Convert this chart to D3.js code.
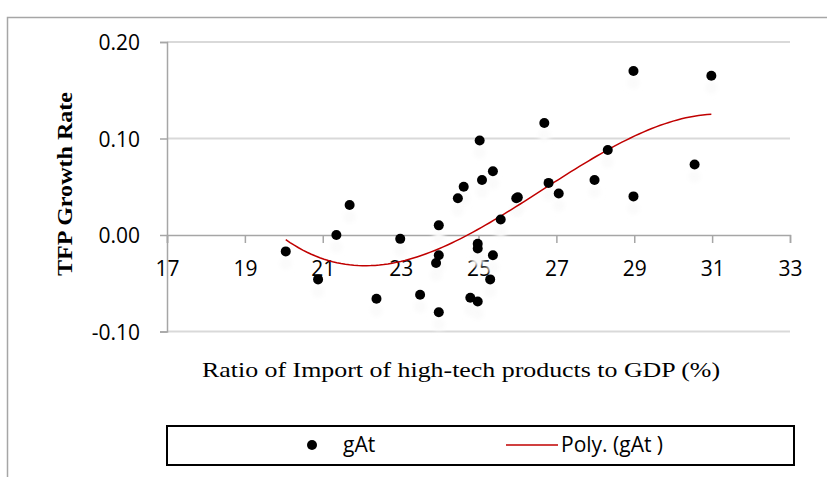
<!DOCTYPE html>
<html>
<head>
<meta charset="utf-8">
<script src="https://cdn.jsdelivr.net/npm/d3@7"></script>
<style>
  body { margin: 0; background: #fff; }
  svg { display: block; }
</style>
</head>
<body>
<div id="chart"></div>
<script>
// TFP growth vs high-tech import ratio (scatter + poly trend)

// Data
var importRatio = [20.05, 20.88, 21.35, 21.69, 22.38, 22.99, 23.50, 23.98, 23.98, 23.91,
    23.98, 24.47, 24.62, 25.03, 25.09, 25.37, 24.98, 24.98, 25.37, 25.30,
    24.79, 24.98, 25.57, 25.97, 26.01, 26.69, 26.80, 27.06, 28.98, 30.98,
    28.32, 27.98, 30.55, 28.98];
var tfpGrowth = [-0.017, -0.046, 0.000, 0.031, -0.066, -0.004, -0.062, 0.010, -0.021, -0.029,
    -0.080, 0.038, 0.050, 0.098, 0.057, 0.066, -0.009, -0.014, -0.021, -0.046,
    -0.065, -0.069, 0.016, 0.038, 0.039, 0.116, 0.054, 0.043, 0.170, 0.165,
    0.088, 0.057, 0.073, 0.040];
var xTicks = [17, 19, 21, 23, 25, 27, 29, 31, 33];
var yTicks = [-0.10, 0.00, 0.10, 0.20];
var seriesName = "gAt";
var trendName = "Poly. (gAt )";

var svgWidth = 827;
var svgHeight = 477;

var svg = d3.select("#chart")
    .append("svg")
    .attr("width", svgWidth)
    .attr("height", svgHeight);

var defs = svg.append("defs");
defs.append("filter")
    .attr("id", "soft")
    .attr("x", "-100%").attr("y", "-100%")
    .attr("width", "300%").attr("height", "300%")
    .append("feGaussianBlur")
    .attr("stdDeviation", 2.5);

// outer chart frame
svg.append("rect")
    .attr("x", 7.5)
    .attr("y", 17.5)
    .attr("width", 840)
    .attr("height", 480)
    .attr("fill", "#fff")
    .attr("stroke", "#a6a6a6")
    .attr("stroke-width", 1.5);

// Scales
var xScale = d3.scaleLinear().domain([17, 33]).range([167, 790]);
var yScale = d3.scaleLinear().domain([-0.1, 0.2]).range([331.5, 42]);

// Gridlines
svg.append("g")
    .selectAll("line")
    .data(yTicks.filter(d => d !== 0))
    .enter()
    .append("line")
    .attr("x1", xScale(17))
    .attr("x2", xScale(33))
    .attr("y1", d => yScale(d))
    .attr("y2", d => yScale(d))
    .attr("stroke", "#d9d9d9")
    .attr("stroke-width", 2);

// Y axis
var yAxis = d3.axisLeft(yScale)
    .tickValues(yTicks)
    .tickSize(7)
    .tickPadding(20)
    .tickFormat(d => d.toFixed(2));

var yAxisG = svg.append("g")
    .attr("transform", `translate(${xScale(17)},0)`)
    .call(yAxis);

// X axis sits on the zero line
var xAxis = d3.axisBottom(xScale)
    .tickValues(xTicks)
    .tickSize(8)
    .tickPadding(20)
    .tickFormat(d3.format("d"));

var xAxisG = svg.append("g")
    .attr("transform", `translate(0,${yScale(0)})`)
    .call(xAxis);

[yAxisG, xAxisG].forEach(function(g) {
    g.select(".domain").attr("stroke", "#a6a6a6").attr("stroke-width", 1.5);
    g.selectAll(".tick line").attr("stroke", "#a6a6a6").attr("stroke-width", 1.5);
    g.selectAll(".tick text")
        .attr("fill", "#000")
        .style("font-family", "'Open Sans', sans-serif")
        .style("font-size", "21px");
});
yAxisG.selectAll(".tick text").attr("dy", "0.36em");
xAxisG.selectAll(".tick text").attr("dy", "0.6em");

// Points: faint shadow, then the dot
var points = importRatio.map((x, i) => ({x: x, y: tfpGrowth[i]}));

svg.append("g")
    .selectAll("circle")
    .data(points)
    .enter()
    .append("circle")
    .attr("cx", d => xScale(d.x))
    .attr("cy", d => yScale(d.y) + 12)
    .attr("r", 6)
    .attr("fill", "#fafafa")
    .attr("filter", "url(#soft)");

// Poly trend (order 3 least squares, like the spreadsheet)
function polyFit(xs, ys, order) {
    var n = order + 1;
    var m = [];
    for (var r = 0; r < n; r++) {
        m.push(new Array(n + 1).fill(0));
        for (var c = 0; c < n; c++) {
            m[r][c] = d3.sum(xs, x => Math.pow(x, r + c));
        }
        m[r][n] = d3.sum(xs, (x, i) => Math.pow(x, r) * ys[i]);
    }
    for (var k = 0; k < n; k++) {
        var p = k;
        for (var r2 = k + 1; r2 < n; r2++) if (Math.abs(m[r2][k]) > Math.abs(m[p][k])) p = r2;
        var t = m[k]; m[k] = m[p]; m[p] = t;
        for (var r3 = 0; r3 < n; r3++) {
            if (r3 === k) continue;
            var f = m[r3][k] / m[k][k];
            for (var c2 = k; c2 <= n; c2++) m[r3][c2] -= f * m[k][c2];
        }
    }
    return m.map((row, i) => row[n] / row[i]);
}

var x0 = 25;
var coef = polyFit(importRatio.map(x => x - x0), tfpGrowth, 3);
var xMin = d3.min(importRatio), xMax = d3.max(importRatio);
var trend = d3.range(0, 101).map(function(i) {
    var x = xMin + (xMax - xMin) * i / 100;
    var u = x - x0;
    return {x: x, y: coef[0] + coef[1] * u + coef[2] * u * u + coef[3] * u * u * u};
});

svg.append("path")
    .datum(trend)
    .attr("fill", "none")
    .attr("stroke", "#c00000")
    .attr("stroke-width", 1.5)
    .attr("d", d3.line().x(d => xScale(d.x)).y(d => yScale(d.y)));

svg.append("g")
    .selectAll("circle")
    .data(points)
    .enter()
    .append("circle")
    .attr("cx", d => xScale(d.x))
    .attr("cy", d => yScale(d.y))
    .attr("r", 5)
    .attr("fill", "#000");

// Axis titles (Palatino-like width, stretched glyphs)
svg.append("text")
    .attr("x", 461)
    .attr("y", 377)
    .attr("text-anchor", "middle")
    .attr("textLength", 518)
    .attr("lengthAdjust", "spacingAndGlyphs")
    .style("font-family", "'Liberation Serif', serif")
    .style("font-size", "21px")
    .text("Ratio of Import of high-tech products to GDP (%)");

svg.append("text")
    .attr("transform", "translate(72,184) rotate(-90)")
    .attr("text-anchor", "middle")
    .attr("textLength", 184)
    .attr("lengthAdjust", "spacingAndGlyphs")
    .style("font-family", "'Liberation Serif', serif")
    .style("font-weight", "bold")
    .style("font-size", "21px")
    .text("TFP Growth Rate");

// Legend
var legend = svg.append("g");
legend.append("rect")
    .attr("x", 167)
    .attr("y", 426)
    .attr("width", 627)
    .attr("height", 39)
    .attr("fill", "#fff")
    .attr("stroke", "#000")
    .attr("stroke-width", 2);
legend.append("circle")
    .attr("cx", 312)
    .attr("cy", 445)
    .attr("r", 5)
    .attr("fill", "#000");
legend.append("text")
    .attr("x", 343)
    .attr("y", 452)
    .style("font-family", "'Open Sans', sans-serif")
    .style("font-size", "21px")
    .text(seriesName);
legend.append("line")
    .attr("x1", 506)
    .attr("x2", 558)
    .attr("y1", 445)
    .attr("y2", 445)
    .attr("stroke", "#c00000")
    .attr("stroke-width", 1.5);
legend.append("text")
    .attr("x", 561)
    .attr("y", 452)
    .style("font-family", "'Open Sans', sans-serif")
    .style("font-size", "21px")
    .text(trendName);
</script>
</body>
</html>
